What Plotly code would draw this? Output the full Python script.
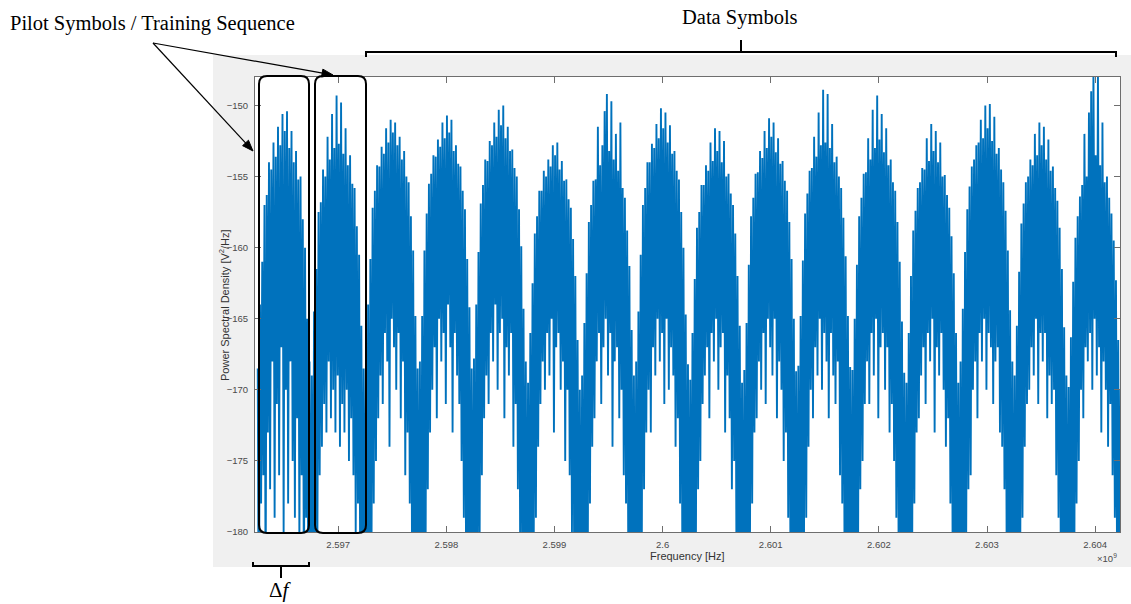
import math
import plotly.graph_objects as go

# ---------------- data ----------------
# centre frequency of each symbol lobe [Hz]
lobe_centers_hz = [2.5965e9, 2.5970e9, 2.5975e9, 2.5980e9, 2.5985e9, 2.5990e9,
                   2.5995e9, 2.6000e9, 2.6005e9, 2.6010e9, 2.6015e9, 2.6020e9,
                   2.6025e9, 2.6030e9, 2.6035e9, 2.6040e9]
lobe_width_hz = 0.5e6

# upper (peak) PSD values across each lobe [dB V^2/Hz]
upper_01 = [-168.5, -164, -161, -157, -156.3, -154, -154.5, -152.6, -153.6, -151.5, -152.8, -150.6, -151.8, -150.4, -153, -151.8, -154, -153.2, -155.2, -155, -158, -160, -165, -168]
upper_02 = [-169, -164.5, -161.5, -157.5, -156.8, -154.5, -155, -152.2, -153.8, -150.6, -153, -149.3, -152.7, -149.8, -153.4, -151.6, -154.2, -153.5, -155.5, -155.8, -158.5, -160.5, -165.5, -168.5]
upper_03 = [-168.5, -164, -160.8, -157.2, -156, -154.2, -154.3, -152.9, -153.4, -151.6, -152.6, -151, -151.9, -151.2, -152.8, -152.2, -153.8, -153.2, -155, -155.4, -157.8, -160.2, -164.8, -168.5]
upper_04 = [-168, -164.8, -160.2, -157.6, -155.5, -154.8, -153.5, -153.6, -152.4, -152.9, -151.2, -152.3, -150.7, -151.9, -151, -153.2, -152.8, -154.1, -154.3, -156, -157.3, -160.8, -164.2, -168.5]
upper_05 = [-167.8, -164, -160.3, -156.9, -155.6, -153.8, -153.9, -152.5, -152.8, -151.2, -152.2, -150.3, -151.4, -150, -152.3, -151.5, -153.2, -153.1, -154.4, -155, -157.3, -159.9, -164.3, -168]
upper_06 = [-169.5, -166, -162.5, -159, -157.8, -156, -156, -154.6, -155, -153.8, -154.3, -152.8, -153.5, -152.6, -154.5, -153.9, -155.3, -155.2, -156.6, -157.2, -159.4, -162, -166.5, -170]
upper_07 = [-169, -165.3, -161.8, -158.2, -157, -155.3, -155.2, -151.5, -154.2, -152.8, -150.4, -149.2, -153.2, -149.7, -153.8, -152, -154.6, -151.2, -155.8, -156.5, -158.8, -161.3, -165.8, -169]
upper_08 = [-168, -164.5, -160.5, -157, -155.8, -154, -154, -152.7, -153, -151.3, -152.3, -150.2, -151.6, -150.5, -152.6, -151.4, -153.4, -153.2, -154.6, -155.2, -157.5, -160, -164.7, -168.2]
upper_09 = [-169.3, -166, -162.2, -158.6, -157.5, -155.6, -155.6, -154.2, -154.6, -152.6, -153.9, -151.6, -153.2, -151.8, -154, -152.5, -155, -154.8, -156.2, -157, -159, -162, -165.5, -169.5]
upper_10 = [-168.6, -165.3, -161.2, -157.8, -156.5, -154.8, -154.7, -153.2, -153.7, -151.8, -153, -150.9, -152.2, -151.2, -153.3, -152.3, -154.1, -153.9, -155.3, -156, -158.2, -160.8, -165, -168.7]
upper_11 = [-168.3, -164.8, -160.9, -157.6, -156.2, -154.6, -154.4, -152.2, -153.6, -150.5, -152.8, -148.9, -152.6, -149.2, -153, -151.3, -154, -153.6, -155, -155.8, -157.9, -160.6, -164.8, -168.4]
upper_12 = [-168.6, -165, -161.2, -157.8, -156.5, -154.8, -154.7, -152.3, -153.8, -150.3, -153, -149.3, -152.4, -150.6, -153.3, -151.6, -154.2, -153.8, -155.4, -156, -158.2, -161, -165.2, -168.8]
upper_13 = [-169.5, -166, -162, -158.8, -157.4, -155.8, -155.4, -154.4, -154.5, -152.3, -153.9, -151.3, -153.2, -151.8, -154, -152.6, -155, -154.9, -156.3, -157.2, -159.2, -161.8, -166, -169.5]
upper_14 = [-168, -164.3, -160.3, -157.3, -155.7, -154.3, -153.8, -152.8, -152.6, -151, -152.3, -150, -151.6, -149.9, -152.5, -150.8, -153.4, -153, -154.5, -155.4, -157.4, -160.2, -164.4, -168]
upper_15 = [-169, -165.5, -161.7, -158.3, -156.9, -155.4, -155, -153.8, -154.2, -152, -153.5, -151.2, -152.8, -151.5, -153.8, -152.4, -154.6, -154.3, -155.8, -156.7, -158.6, -161.5, -165.6, -169]
upper_16 = [-169.8, -166.3, -162.4, -159.3, -157.8, -156.4, -155.6, -152, -155, -150.5, -149, -147.6, -153.5, -147.8, -154.2, -151.2, -155.4, -155, -156.5, -157.6, -159.5, -162.3, -166.5, -170]

# lower (dip) PSD values across each lobe [dB V^2/Hz]
lower_01 = [-190, -178, -176, -185, -173, -177, -168, -179, -171, -176, -167, -180, -170, -178, -168, -175, -179, -172, -181, -176, -185, -179, -188, -190]
lower_02 = [-190, -185, -180, -176, -174, -171, -173, -168, -172, -170, -173, -169, -174, -171, -173, -170, -175, -172, -176, -180, -178, -184, -188, -190]
lower_03 = [-190, -186, -182, -178, -175, -172, -169, -171, -166, -168, -174, -165, -167, -170, -166, -172, -168, -176, -173, -178, -182, -186, -189, -190]
lower_04 = [-190, -187, -183, -177, -173, -170, -167, -172, -165, -168, -166, -171, -164, -167, -173, -166, -169, -171, -175, -179, -183, -186, -190, -190]
lower_05 = [-190, -185, -181, -176, -172, -169, -171, -166, -168, -164, -170, -166, -165, -172, -167, -169, -166, -174, -171, -177, -181, -185, -189, -190]
lower_06 = [-190, -186, -182, -179, -174, -171, -168, -170, -166, -169, -165, -173, -167, -166, -170, -168, -175, -170, -176, -180, -183, -187, -190, -190]
lower_07 = [-190, -187, -183, -178, -174, -172, -168, -166, -171, -167, -165, -169, -166, -174, -168, -167, -172, -170, -176, -178, -182, -186, -189, -190]
lower_08 = [-190, -186, -181, -177, -173, -170, -173, -167, -169, -165, -168, -166, -171, -165, -170, -167, -169, -174, -172, -178, -182, -185, -190, -190]
lower_09 = [-190, -185, -182, -177, -175, -171, -169, -167, -172, -166, -168, -165, -170, -167, -166, -173, -169, -172, -177, -175, -181, -186, -189, -190]
lower_10 = [-190, -187, -182, -178, -173, -172, -168, -170, -166, -171, -165, -167, -169, -165, -172, -168, -170, -175, -173, -179, -183, -186, -190, -190]
lower_11 = [-190, -186, -181, -179, -174, -170, -172, -167, -169, -165, -170, -166, -168, -172, -166, -169, -171, -168, -176, -178, -182, -187, -189, -190]
lower_12 = [-190, -185, -182, -177, -175, -171, -168, -171, -166, -169, -165, -172, -167, -166, -170, -167, -173, -171, -175, -179, -181, -186, -190, -190]
lower_13 = [-190, -187, -183, -178, -173, -172, -169, -167, -171, -166, -168, -165, -173, -167, -169, -166, -170, -174, -172, -178, -182, -185, -189, -190]
lower_14 = [-190, -186, -181, -177, -176, -170, -168, -172, -166, -168, -165, -170, -166, -167, -171, -168, -167, -173, -174, -177, -183, -187, -190, -190]
lower_15 = [-190, -185, -182, -179, -174, -171, -170, -167, -169, -165, -171, -166, -168, -166, -172, -169, -171, -170, -176, -179, -182, -186, -189, -190]
lower_16 = [-190, -186, -183, -178, -175, -170, -172, -167, -168, -166, -170, -165, -169, -167, -173, -168, -170, -174, -171, -176, -179, -183, -187, -190]

x_tick_vals = [2.597e9, 2.598e9, 2.599e9, 2.600e9, 2.601e9, 2.602e9, 2.603e9, 2.604e9]
x_tick_text = ["2.597", "2.598", "2.599", "2.6", "2.601", "2.602", "2.603", "2.604"]
y_tick_vals = [-180, -175, -170, -165, -160, -155, -150]
x_range = [2.59623e9, 2.60423e9]
y_range = [-180, -148]

uppers = [upper_01, upper_02, upper_03, upper_04, upper_05, upper_06, upper_07, upper_08,
          upper_09, upper_10, upper_11, upper_12, upper_13, upper_14, upper_15, upper_16]
lowers = [lower_01, lower_02, lower_03, lower_04, lower_05, lower_06, lower_07, lower_08,
          lower_09, lower_10, lower_11, lower_12, lower_13, lower_14, lower_15, lower_16]

# ---------------- build the PSD trace ----------------
xs, ys = [], []
for c, up, lo in zip(lobe_centers_hz, uppers, lowers):
    n = len(up)
    bw = lobe_width_hz / n
    start = c - lobe_width_hz / 2
    for i in range(n):
        xs.append(start + (i + 0.25) * bw)
        ys.append(up[i])
        xs.append(start + (i + 0.75) * bw)
        ys.append(lo[i])

# ---------------- layout helpers (pixel -> paper) ----------------
W, H = 1131, 604
L_PX, R_PX, T_PX, B_PX = 255, 1120, 77, 532


def px(xp):
    return (xp - L_PX) / (R_PX - L_PX)


def py(yp):
    return (B_PX - yp) / (B_PX - T_PX)


def rbox(x0, y0, x1, y1, r):
    X0, X1, Yt, Yb = px(x0), px(x1), py(y0), py(y1)
    rx = r / (R_PX - L_PX)
    ry = r / (B_PX - T_PX)
    return (f"M {X0+rx},{Yt} L {X1-rx},{Yt} Q {X1},{Yt} {X1},{Yt-ry} "
            f"L {X1},{Yb+ry} Q {X1},{Yb} {X1-rx},{Yb} L {X0+rx},{Yb} "
            f"Q {X0},{Yb} {X0},{Yb+ry} L {X0},{Yt-ry} Q {X0},{Yt} {X0+rx},{Yt} Z")


def seg(x0, y0, x1, y1, w=2):
    return dict(type="line", xref="paper", yref="paper",
                x0=px(x0), y0=py(y0), x1=px(x1), y1=py(y1),
                line=dict(color="black", width=w), layer="above")


def arrow(tx, ty, hx, hy, head_len=11, head_half=4):
    dx, dy = hx - tx, hy - ty
    d = math.hypot(dx, dy)
    ux, uy = dx / d, dy / d
    nx, ny = -uy, ux
    bx, by = hx - head_len * ux, hy - head_len * uy
    p1 = (bx + head_half * nx, by + head_half * ny)
    p2 = (bx - head_half * nx, by - head_half * ny)
    tri = (f"M {px(hx)},{py(hy)} L {px(p1[0])},{py(p1[1])} "
           f"L {px(p2[0])},{py(p2[1])} Z")
    return [seg(tx, ty, bx + 2 * ux, by + 2 * uy, 1.2),
            dict(type="path", xref="paper", yref="paper", path=tri,
                 fillcolor="black", line=dict(color="black", width=1), layer="above")]


fig = go.Figure()
fig.add_trace(go.Scatter(x=xs, y=ys, mode="lines",
                         line=dict(color="#0072BD", width=1.9),
                         hoverinfo="skip", showlegend=False))

axis_col = "#6e6e6e"
tick_font = dict(family="Arial, Liberation Sans, sans-serif", size=9.5, color="#4a4a4a")

shapes = [
    # MATLAB figure background
    dict(type="rect", xref="paper", yref="paper", x0=px(213), x1=px(1131),
         y0=py(567), y1=py(55), fillcolor="#f0f0f0", line=dict(width=0), layer="below"),
    # axes background
    dict(type="rect", xref="paper", yref="paper", x0=0, x1=1, y0=0, y1=1,
         fillcolor="white", line=dict(width=0), layer="below"),
    # rounded boxes around pilot lobes
    dict(type="path", xref="paper", yref="paper", path=rbox(259, 76, 309, 533, 8),
         line=dict(color="black", width=2), layer="above"),
    dict(type="path", xref="paper", yref="paper", path=rbox(315, 76, 366, 533, 8),
         line=dict(color="black", width=2), layer="above"),
    # Data symbols bracket
    seg(366, 52, 1116, 52), seg(366, 51, 366, 57), seg(1116, 51, 1116, 57),
    seg(741, 40, 741, 52),
    # delta f bracket
    seg(253, 566, 309, 566), seg(253, 562, 253, 567), seg(309, 562, 309, 567),
    seg(281, 566, 281, 578),
]
shapes += arrow(153, 43, 333, 75)
shapes += arrow(153, 43, 253, 151)

serif = "Liberation Serif, Times New Roman, serif"
annotations = [
    dict(text="Pilot Symbols / Training Sequence", x=px(8), y=py(24), xref="paper", yref="paper",
         xanchor="left", yanchor="middle", showarrow=False,
         font=dict(family=serif, size=20.5, color="black")),
    dict(text="Data Symbols", x=px(740), y=py(17), xref="paper", yref="paper",
         xanchor="center", yanchor="middle", showarrow=False,
         font=dict(family=serif, size=20.5, color="black")),
    dict(text="Δ<i>f</i>", x=px(280), y=py(590), xref="paper", yref="paper",
         xanchor="center", yanchor="middle", showarrow=False,
         font=dict(family=serif, size=21, color="black")),
    # axis titles
    dict(text="Frequency [Hz]", x=px(687.5), y=py(556), xref="paper", yref="paper",
         xanchor="center", yanchor="middle", showarrow=False,
         font=dict(family="Arial, Liberation Sans, sans-serif", size=11, color="#333333")),
    dict(text="Power Spectral Density [V<sup>2</sup>/Hz]", x=px(224), y=py(305),
         xref="paper", yref="paper", xanchor="center", yanchor="middle", textangle=-90,
         showarrow=False,
         font=dict(family="Arial, Liberation Sans, sans-serif", size=11, color="#333333")),
    dict(text="×10<sup>9</sup>", x=px(1119), y=py(558), xref="paper", yref="paper",
         xanchor="right", yanchor="middle", showarrow=False,
         font=dict(family="Arial, Liberation Sans, sans-serif", size=9.5, color="#4a4a4a")),
]

fig.update_layout(
    width=W, height=H,
    margin=dict(l=L_PX, r=W - R_PX, t=T_PX, b=H - B_PX, pad=0),
    paper_bgcolor="white", plot_bgcolor="white",
    shapes=shapes, annotations=annotations, showlegend=False,
    xaxis=dict(range=x_range, tickvals=x_tick_vals, ticktext=x_tick_text,
               ticks="inside", ticklen=6, tickcolor=axis_col, tickwidth=1,
               showline=True, linecolor=axis_col, linewidth=1, mirror="ticks",
               showgrid=False, zeroline=False, tickfont=tick_font, ticklabelstandoff=4),
    yaxis=dict(range=y_range, tickvals=y_tick_vals,
               ticks="inside", ticklen=6, tickcolor=axis_col, tickwidth=1,
               showline=True, linecolor=axis_col, linewidth=1, mirror="ticks",
               showgrid=False, zeroline=False, tickfont=tick_font, ticklabelstandoff=4),
)

fig.write_html("out.html")
